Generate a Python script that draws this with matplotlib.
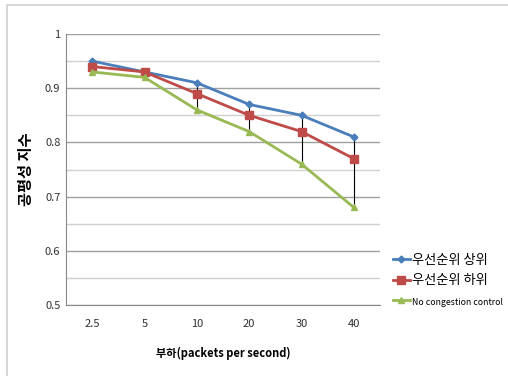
import numpy as np
import matplotlib.pyplot as plt
from matplotlib.patches import Rectangle

plt.rcParams['font.family'] = ['Noto Sans CJK KR', 'DejaVu Sans']

loads = ["2.5", "5", "10", "20", "30", "40"]
high_prio = [0.95, 0.93, 0.91, 0.87, 0.85, 0.81]
low_prio = [0.94, 0.93, 0.89, 0.85, 0.82, 0.77]
no_cc = [0.93, 0.92, 0.86, 0.82, 0.76, 0.68]
series_names = ["우선순위 상위", "우선순위 하위", "No congestion control"]


def main():
    fig = plt.figure(figsize=(5.08, 3.76), dpi=100)
    # outer chart frame
    fig.patches.append(Rectangle((7 / 508, -0.01), 1.0, 1 - 5 / 376 + 0.01,
                                 transform=fig.transFigure, fill=False,
                                 edgecolor='#d0d0d0', linewidth=1.2))
    ax = fig.add_axes([66 / 508, 1 - 305 / 376, (380 - 66) / 508, (305 - 34) / 376])

    x = np.arange(len(loads))
    all_vals = np.array([high_prio, low_prio, no_cc])

    # high-low lines
    ax.vlines(x, all_vals.min(axis=0), all_vals.max(axis=0), color='black',
              linewidth=0.8, zorder=2)

    ax.plot(x, high_prio, color='#4a7ebb', marker='D', markersize=3.5,
            linewidth=2, label=series_names[0], zorder=3)
    ax.plot(x, low_prio, color='#be4b48', marker='s', markersize=6,
            linewidth=2, label=series_names[1], zorder=3)
    ax.plot(x, no_cc, color='#98b954', marker='^', markersize=5,
            linewidth=2, label=series_names[2], zorder=3)

    ax.set_xlim(-0.5, len(loads) - 0.5)
    ax.set_ylim(0.5, 1.0)
    ax.set_xticks(x)
    ax.set_xticklabels(loads)
    ax.set_yticks([0.5, 0.6, 0.7, 0.8, 0.9, 1.0])
    ax.set_yticklabels(["0.5", "0.6", "0.7", "0.8", "0.9", "1"])
    ax.set_yticks(np.arange(0.55, 1.0, 0.1), minor=True)
    ax.grid(axis='y', which='major', color='#a0a0a0', linewidth=1)
    ax.grid(axis='y', which='minor', color='#d0d0d0', linewidth=1)
    ax.set_axisbelow(True)
    ax.tick_params(axis='both', which='both', length=0, labelsize=8, colors='#303030')
    ax.tick_params(axis='x', pad=10)
    ax.tick_params(axis='y', pad=4)
    for s in ['top', 'right']:
        ax.spines[s].set_visible(False)
    ax.spines['left'].set_color('#888888')
    ax.spines['bottom'].set_color('#888888')

    ax.set_xlabel("부하(packets per second)", fontsize=8, fontweight='bold', labelpad=13)
    ax.set_ylabel("공평성 지수", fontsize=11, fontweight='bold', labelpad=8)

    leg = ax.legend(loc='upper left', bbox_to_anchor=(1.04, 0.19), frameon=False,
                    fontsize=9.5, handlelength=1.35, handletextpad=0.1,
                    labelspacing=0.6, borderaxespad=0, borderpad=0)
    leg.get_texts()[2].set_fontsize(6.3)

    fig.savefig("out.png", dpi=100)


if __name__ == "__main__":
    main()
